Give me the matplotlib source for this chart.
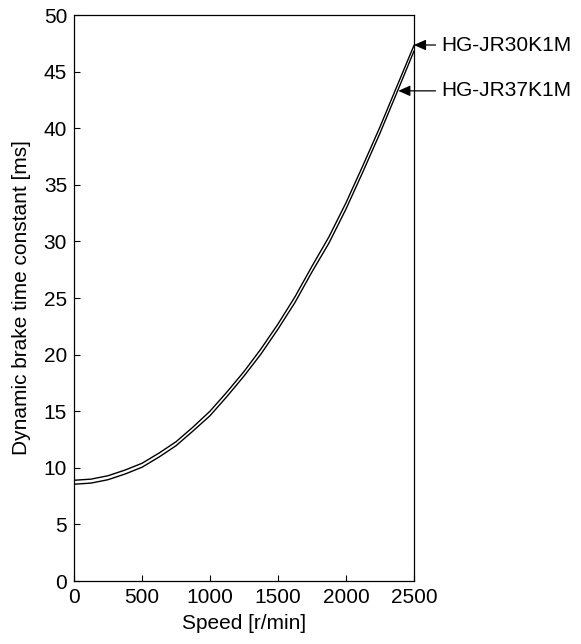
import matplotlib
matplotlib.use('Agg')
import matplotlib.pyplot as plt

plt.rcParams['font.family'] = ['Liberation Sans', 'DejaVu Sans']

# speed [r/min]
speed = [0, 125, 250, 375, 500, 625, 750, 875, 1000, 1125, 1250,
         1375, 1500, 1625, 1750, 1875, 2000, 2125, 2250, 2375, 2500]
# dynamic brake time constant [ms]
tc_30k1m = [8.9, 9.0, 9.3, 9.8, 10.4, 11.3, 12.3, 13.6, 15.0, 16.7, 18.5,
            20.5, 22.7, 25.1, 27.8, 30.4, 33.4, 36.7, 40.1, 43.7, 47.3]
tc_37k1m = [8.55, 8.65, 8.95, 9.45, 10.05, 10.95, 11.95, 13.25, 14.6, 16.3, 18.1,
            20.05, 22.25, 24.6, 27.3, 29.85, 32.85, 36.15, 39.55, 43.15, 46.8]

label_30 = 'HG-JR30K1M'
label_37 = 'HG-JR37K1M'

fig = plt.figure(figsize=(5.81, 6.44), dpi=100)
ax = fig.add_axes([0.1274, 0.0978, 0.585, 0.8789])

ax.plot(speed, tc_30k1m, color='black', linewidth=1.0)
ax.plot(speed, tc_37k1m, color='black', linewidth=1.0)

ax.set_xlim(0, 2500)
ax.set_ylim(0, 50)
ax.set_xticks([0, 500, 1000, 1500, 2000, 2500])
ax.set_yticks(range(0, 51, 5))
ax.tick_params(direction='in', length=4.5, width=0.8, labelsize=15, pad=5)
for s in ax.spines.values():
    s.set_linewidth(0.9)

ax.set_xlabel('Speed [r/min]', fontsize=15, labelpad=5)
ax.set_ylabel('Dynamic brake time constant [ms]', fontsize=15, labelpad=9)

arrow = dict(arrowstyle='-|>,head_length=0.72,head_width=0.32', color='black',
             lw=0.9, shrinkA=2, shrinkB=0, mutation_scale=10)
ax.annotate(label_30, xy=(2500, 47.35), xytext=(2700, 47.35), va='center', ha='left',
            fontsize=15, arrowprops=arrow, annotation_clip=False)
ax.annotate(label_37, xy=(2385, 43.3), xytext=(2700, 43.3), va='center', ha='left',
            fontsize=15, arrowprops=arrow, annotation_clip=False)

fig.savefig('out.png', dpi=100)
